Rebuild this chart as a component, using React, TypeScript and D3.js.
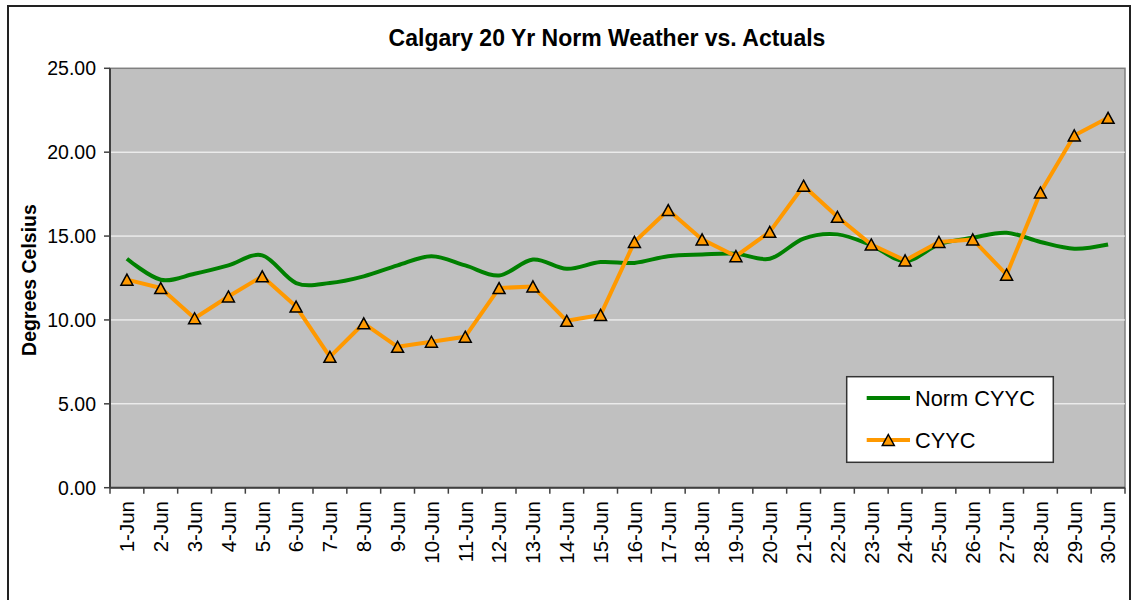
import React from "react";
import * as d3 from "d3";

const categories: string[] = [
  "1-Jun", "2-Jun", "3-Jun", "4-Jun", "5-Jun", "6-Jun", "7-Jun", "8-Jun", "9-Jun", "10-Jun",
  "11-Jun", "12-Jun", "13-Jun", "14-Jun", "15-Jun", "16-Jun", "17-Jun", "18-Jun", "19-Jun", "20-Jun",
  "21-Jun", "22-Jun", "23-Jun", "24-Jun", "25-Jun", "26-Jun", "27-Jun", "28-Jun", "29-Jun", "30-Jun",
];

const normCYYC: number[] = [
  13.65, 12.4, 12.75, 13.25, 13.85, 12.2, 12.2, 12.6, 13.25, 13.8,
  13.25, 12.65, 13.6, 13.05, 13.45, 13.4, 13.8, 13.9, 13.95, 13.65,
  14.85, 15.1, 14.45, 13.5, 14.5, 14.9, 15.2, 14.65, 14.25, 14.5,
];

const actualCYYC: number[] = [
  12.4, 11.9, 10.1, 11.4, 12.6, 10.8, 7.8, 9.8, 8.4, 8.7,
  9.0, 11.9, 12.0, 9.95, 10.3, 14.65, 16.55, 14.8, 13.8, 15.25,
  18.0, 16.15, 14.5, 13.55, 14.65, 14.8, 12.7, 17.6, 21.0, 22.05,
];

const yTicks: number[] = [0, 5, 10, 15, 20, 25];

const title = "Calgary 20 Yr Norm Weather vs. Actuals";
const yTitle = "Degrees Celsius";
const seriesNames = ["Norm CYYC", "CYYC"];

const FONT = "'Liberation Sans', Arial, Helvetica, sans-serif";
const GREEN = "#008000";
const ORANGE = "#FF9900";

const plot = { left: 110, right: 1125, top: 68.3, bottom: 487.7 };

function triPath(cx: number, cy: number, w = 12, h = 11) {
  return `M${cx},${cy - h / 2}L${cx + w / 2},${cy + h / 2}L${cx - w / 2},${cy + h / 2}Z`;
}

export default function App() {
  const x = d3.scaleBand<string>().domain(categories).range([plot.left, plot.right]).padding(0);
  const y = d3.scaleLinear().domain([0, 25]).range([plot.bottom, plot.top]);
  const cx = (c: string) => (x(c) as number) + x.bandwidth() / 2;

  const normLine = d3
    .line<number>()
    .x((_, i) => cx(categories[i]))
    .y((d) => y(d))
    .curve(d3.curveCardinal.tension(0));
  const actLine = d3
    .line<number>()
    .x((_, i) => cx(categories[i]))
    .y((d) => y(d));

  const boundaries = categories.map((c) => x(c) as number).concat([plot.right]);

  const legend = { x: 846.7, y: 376.7, w: 206.6, h: 85.6 };

  return (
    <svg
      width={1135}
      height={600}
      style={{ position: "absolute", left: 0, top: 0, background: "#fff" }}
      fontFamily={FONT}
    >
      <rect x={8} y={6} width={1122} height={700} fill="#fff" stroke="#222" strokeWidth={2} />

      <text x={607} y={46} textAnchor="middle" fontSize={23} fontWeight="bold" fill="#000">
        {title}
      </text>

      {/* plot area */}
      <rect
        x={plot.left}
        y={plot.top}
        width={plot.right - plot.left}
        height={plot.bottom - plot.top}
        fill="#C0C0C0"
        stroke="#808080"
        strokeWidth={1.5}
      />
      {yTicks
        .filter((t) => t > 0 && t < 25)
        .map((t) => (
          <line key={t} x1={plot.left} x2={plot.right} y1={y(t)} y2={y(t)} stroke="#fff" strokeWidth={1} />
        ))}

      {/* axes */}
      <line x1={plot.left} x2={plot.left} y1={plot.top} y2={plot.bottom} stroke="#404040" strokeWidth={2} />
      <line x1={plot.left} x2={plot.right} y1={plot.bottom} y2={plot.bottom} stroke="#404040" strokeWidth={2} />
      {yTicks.map((t) => (
        <g key={t}>
          <line x1={plot.left - 6} x2={plot.left} y1={y(t)} y2={y(t)} stroke="#404040" strokeWidth={1.5} />
          <text x={96} y={y(t)} dy="0.36em" textAnchor="end" fontSize={19.5} fill="#000">
            {t.toFixed(2)}
          </text>
        </g>
      ))}
      {boundaries.map((b, i) => (
        <line key={i} x1={b} x2={b} y1={plot.bottom} y2={plot.bottom + 6} stroke="#404040" strokeWidth={1.5} />
      ))}
      {categories.map((c) => (
        <text
          key={c}
          transform={`translate(${cx(c)},501) rotate(-90)`}
          dy="0.36em"
          textAnchor="end"
          fontSize={20.5}
          fill="#000"
        >
          {c}
        </text>
      ))}

      <text
        transform={`translate(29,${(plot.top + plot.bottom) / 2 + 2}) rotate(-90)`}
        dy="0.36em"
        textAnchor="middle"
        fontSize={19.5}
        fontWeight="bold"
        fill="#000"
      >
        {yTitle}
      </text>

      {/* series */}
      <path d={normLine(normCYYC) || ""} fill="none" stroke={GREEN} strokeWidth={4} strokeLinejoin="round" />
      <path d={actLine(actualCYYC) || ""} fill="none" stroke={ORANGE} strokeWidth={4} strokeLinejoin="round" />
      {actualCYYC.map((v, i) => (
        <path key={i} d={triPath(cx(categories[i]), y(v))} fill={ORANGE} stroke="#000" strokeWidth={1.5} />
      ))}

      {/* legend */}
      <rect x={legend.x} y={legend.y} width={legend.w} height={legend.h} fill="#fff" stroke="#333" strokeWidth={1.5} />
      <line x1={866.7} x2={910} y1={398} y2={398} stroke={GREEN} strokeWidth={4} />
      <text x={915} y={398} dy="0.36em" fontSize={21.8} fill="#000">
        {seriesNames[0]}
      </text>
      <line x1={866.7} x2={910} y1={440} y2={440} stroke={ORANGE} strokeWidth={4} />
      <path d={triPath(888.3, 440)} fill={ORANGE} stroke="#000" strokeWidth={1.5} />
      <text x={915} y={440} dy="0.36em" fontSize={21.8} fill="#000">
        {seriesNames[1]}
      </text>
    </svg>
  );
}
